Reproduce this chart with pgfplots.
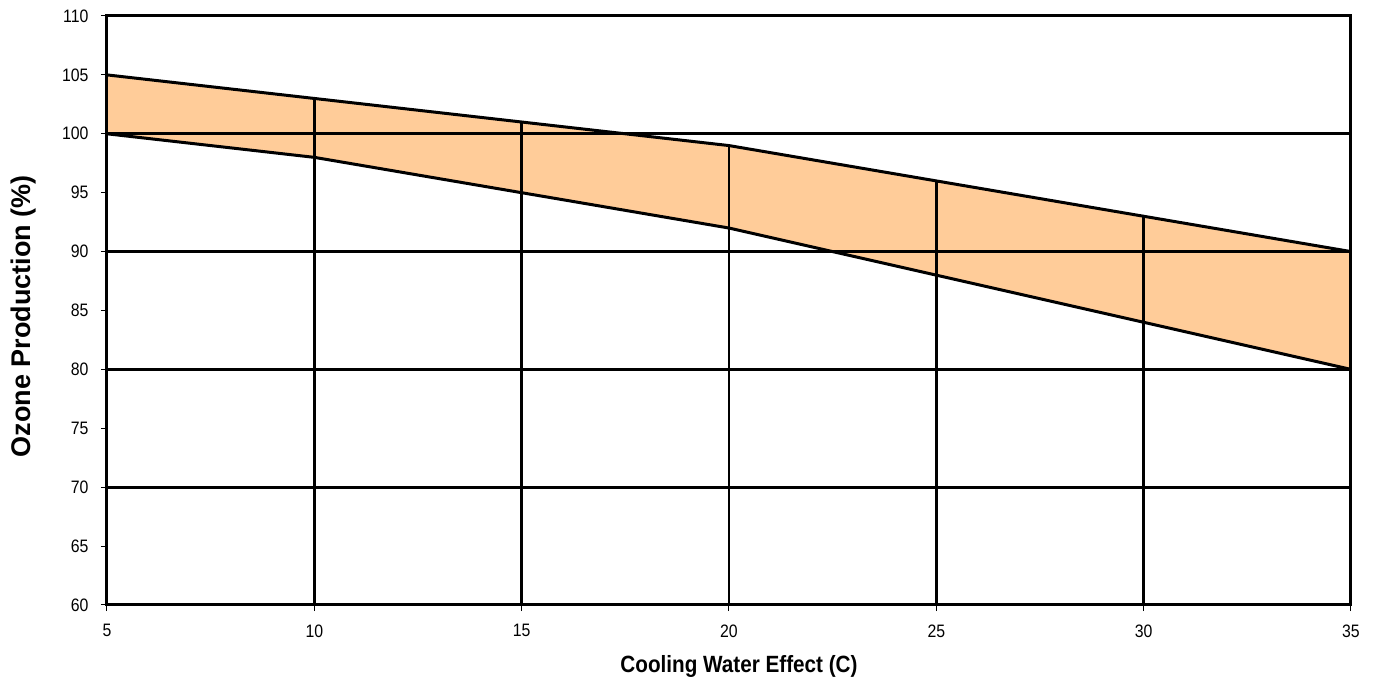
\documentclass[border=0pt]{standalone}
\usepackage{fontspec}
\setmainfont{Liberation Sans}
\newfontfamily\condensed[FakeStretch=0.88]{Liberation Sans}
\usepackage{pgfplots}
\pgfplotsset{compat=1.18}
\definecolor{band}{HTML}{FFCC99}

\begin{document}
\begin{tikzpicture}
\begin{axis}[
    scale only axis,
    width=1244pt, height=589pt,
    xmin=5, xmax=35, ymin=60, ymax=110,
    xtick={5,10,...,35},
    ytick={60,65,...,110},
    extra y ticks={70,80,90,100},
    extra y tick labels={},
    extra y tick style={ymajorgrids=true, major tick length=0pt},
    major grid style={black, line width=3pt},
    axis line style={black, line width=3pt},
    tick style={black, line width=1pt},
    major tick length=6pt,
    tick align=outside,
    xtick pos=bottom, ytick pos=left,
    /pgf/number format/assume math mode=true,
    ticklabel style={font=\condensed\fontsize{18}{20}\selectfont},
    xticklabel style={yshift=-10pt},
    yticklabel style={xshift=-9pt},
    xlabel={\condensed\fontsize{23.5}{26}\selectfont\bfseries Cooling Water Effect (C)},
    ylabel={\fontsize{27}{30}\selectfont\bfseries Ozone Production (\%)},
    xlabel style={at={(axis description cs:0.5,0)}, anchor=center, xshift=10pt, yshift=-61pt},
    ylabel style={at={(axis description cs:0,0.5)}, anchor=center, yshift=83pt, xshift=-6pt},
    axis on top,
]
% band between the two curves
\addplot[fill=band, draw=none] coordinates {
    (5,105) (10,103) (15,101) (20,99) (25,96) (30,93) (35,90)
    (35,80) (30,84) (25,88) (20,92) (15,95) (10,98) (5,100)} -- cycle;
% upper curve
\addplot[black, line width=3pt] coordinates {
    (5,105) (10,103) (15,101) (20,99) (25,96) (30,93) (35,90)};
% lower curve
\addplot[black, line width=3pt] coordinates {
    (5,100) (10,98) (15,95) (20,92) (25,88) (30,84) (35,80)};
% vertical lines up to the upper curve
\addplot[black, line width=2.6pt] coordinates {(10,60) (10,103)};
\addplot[black, line width=2.6pt] coordinates {(15,60) (15,101)};
\addplot[black, line width=2.6pt] coordinates {(20,60) (20,99)};
\addplot[black, line width=2.6pt] coordinates {(25,60) (25,96)};
\addplot[black, line width=2.6pt] coordinates {(30,60) (30,93)};
\end{axis}
\pgfresetboundingbox
\path[use as bounding box] (-107pt,-82pt) rectangle (1268pt,605pt);
\end{tikzpicture}
\end{document}
